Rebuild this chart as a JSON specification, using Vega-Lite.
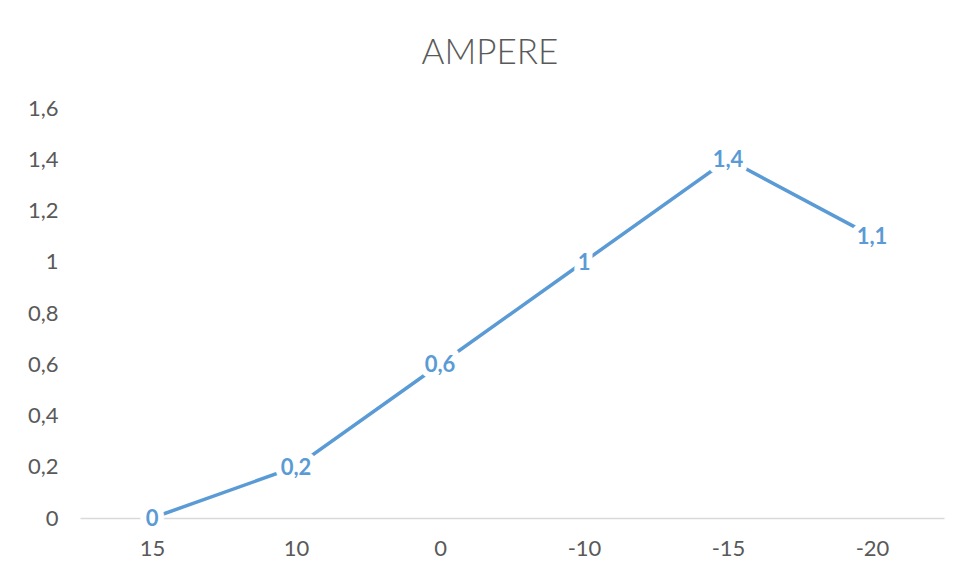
{
  "$schema": "https://vega.github.io/schema/vega-lite/v6.json",
  "autosize": {"type": "none"},
  "width": 864,
  "height": 410,
  "padding": {"left": 80, "top": 108, "right": 16, "bottom": 59},
  "background": "white",
  "title": {
    "text": "AMPERE",
    "font": "Lato",
    "fontWeight": 300,
    "fontSize": 35,
    "color": "#595959",
    "anchor": "middle",
    "dx": -22,
    "offset": 26
  },
  "config": {
    "locale": {"number": {"decimal": ",", "thousands": ".", "grouping": [3], "currency": ["", " €"]}},
    "view": {"stroke": null},
    "font": "Lato"
  },
  "data": {
    "values": [
      {"temp": "15", "ampere": 0},
      {"temp": "10", "ampere": 0.2},
      {"temp": "0", "ampere": 0.6},
      {"temp": "-10", "ampere": 1.0},
      {"temp": "-15", "ampere": 1.4},
      {"temp": "-20", "ampere": 1.1}
    ]
  },
  "encoding": {
    "x": {
      "field": "temp",
      "type": "nominal",
      "sort": null,
      "scale": {"type": "point", "padding": 0.5},
      "axis": {
        "title": null,
        "labelAngle": 0,
        "labelFont": "Lato",
        "labelFontSize": 22,
        "labelColor": "#595959",
        "labelPadding": 20,
        "ticks": false,
        "domainColor": "#D9D9D9",
        "domainWidth": 1.5,
        "grid": false
      }
    },
    "y": {
      "field": "ampere",
      "type": "quantitative",
      "scale": {"domain": [0, 1.6], "nice": false},
      "axis": {
        "title": null,
        "values": [0, 0.2, 0.4, 0.6, 0.8, 1.0, 1.2, 1.4, 1.6],
        "format": ".1~f",
        "labelFont": "Lato",
        "labelFontSize": 22,
        "labelColor": "#595959",
        "labelPadding": 22,
        "ticks": false,
        "domain": false,
        "grid": false
      }
    }
  },
  "layer": [
    {
      "mark": {"type": "line", "color": "#5B9BD5", "strokeWidth": 3.5}
    },
    {
      "mark": {"type": "text", "font": "Lato", "fontWeight": "bold", "fontSize": 22, "stroke": "white", "strokeWidth": 12, "strokeJoin": "round", "align": "center", "baseline": "middle", "dy": 1},
      "encoding": {"text": {"field": "ampere", "type": "quantitative", "format": ".1~f"}}
    },
    {
      "mark": {"type": "text", "font": "Lato", "fontWeight": "bold", "fontSize": 22, "color": "#5B9BD5", "align": "center", "baseline": "middle", "dy": 1},
      "encoding": {"text": {"field": "ampere", "type": "quantitative", "format": ".1~f"}}
    }
  ]
}
